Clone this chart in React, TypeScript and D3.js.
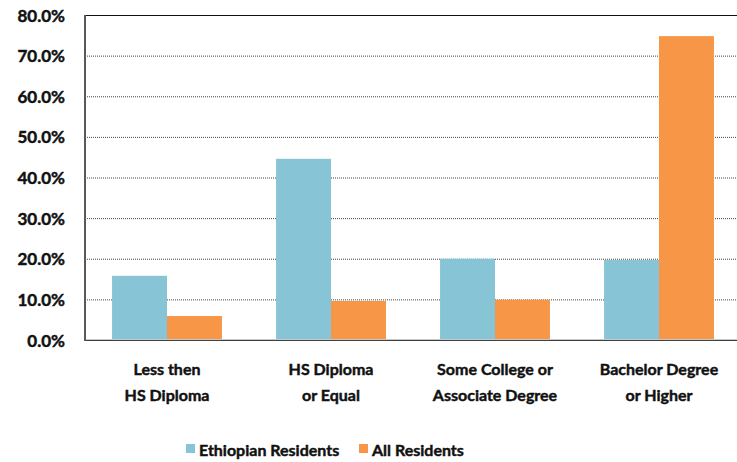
import React from "react";
import * as d3 from "d3";

const categories = [
  ["Less then", "HS Diploma"],
  ["HS Diploma", "or Equal"],
  ["Some College or", "Associate Degree"],
  ["Bachelor Degree", "or Higher"],
];
const seriesNames = ["Ethiopian Residents", "All Residents"];
const ethiopian = [15.8, 44.6, 20.0, 19.7];
const allResidents = [5.9, 9.6, 9.9, 74.8];
const yTicks = [0, 10, 20, 30, 40, 50, 60, 70, 80];
const colors = ["#86C4D6", "#F79646"];

const W = 737;
const H = 462;
const left = 85;
const top = 15;
const bottom = 340;
const FONT = "Lato, 'Open Sans', sans-serif";
const textStyle = { stroke: "#111", strokeWidth: 0.45 };

export default function App() {
  const y = d3.scaleLinear().domain([0, 80]).range([bottom, top]);
  const x0 = d3
    .scaleBand<number>()
    .domain(d3.range(categories.length))
    .range([left, left + 4 * 164])
    .paddingInner(0.33)
    .paddingOuter(0.165);
  const x1 = d3.scaleBand<number>().domain([0, 1]).range([0, x0.bandwidth()]);
  const series = [ethiopian, allResidents];

  return (
    <svg
      width={W}
      height={H}
      style={{ position: "absolute", left: 0, top: 0, fontFamily: FONT }}
    >
      <rect width={W} height={H} fill="#fff" />
      {yTicks.slice(1, -1).map((t) => (
        <line
          key={t}
          x1={left}
          x2={W}
          y1={y(t) + 0.5}
          y2={y(t) + 0.5}
          stroke="#444"
          strokeWidth={1}
          strokeDasharray="1 1"
        />
      ))}
      <line x1={left} x2={W} y1={top + 0.5} y2={top + 0.5} stroke="#111" strokeWidth={1} />
      {series.map((vals, si) =>
        vals.map((v, ci) => (
          <rect
            key={`${si}-${ci}`}
            x={(x0(ci) as number) + (x1(si) as number)}
            y={y(v)}
            width={x1.bandwidth()}
            height={bottom - y(v)}
            fill={colors[si]}
          />
        ))
      )}
      <line x1={left} x2={W} y1={bottom - 0.5} y2={bottom - 0.5} stroke="#c8c8c8" strokeWidth={1} />
      <line x1={left} x2={W} y1={bottom + 0.5} y2={bottom + 0.5} stroke="#404040" strokeWidth={1} />
      <line x1={left} x2={left} y1={top} y2={bottom + 1} stroke="#595959" strokeWidth={2} />
      {yTicks.map((t) => (
        <text
          key={t}
          x={65}
          y={y(t)}
          textAnchor="end"
          dominantBaseline="central"
          fontSize={17}
          fontWeight="bold"
          fill="#111"
          style={textStyle}
        >
          {t.toFixed(1)}%
        </text>
      ))}
      {categories.map((lines, ci) => (
        <text
          key={ci}
          textAnchor="middle"
          fontSize={16}
          fontWeight="bold"
          fill="#111"
          style={textStyle}
        >
          {lines.map((l, li) => (
            <tspan
              key={li}
              x={(x0(ci) as number) + x0.bandwidth() / 2}
              y={368 + li * 26}
              dominantBaseline="central"
            >
              {l}
            </tspan>
          ))}
        </text>
      ))}
      {seriesNames.map((name, si) => {
        const lx = si === 0 ? 186 : 359;
        return (
          <g key={name}>
            <rect x={lx} y={444} width={9} height={9} fill={colors[si]} />
            <text
              x={lx + 13}
              y={449}
              dominantBaseline="central"
              fontSize={16}
              fontWeight="bold"
              fill="#111"
              style={textStyle}
            >
              {name}
            </text>
          </g>
        );
      })}
    </svg>
  );
}
